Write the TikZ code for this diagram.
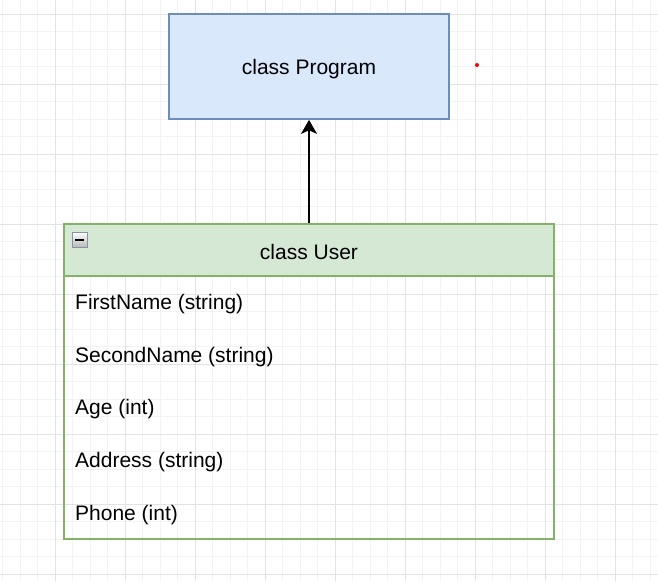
\documentclass[tikz,border=0pt]{standalone}
\usepackage{fontspec}
\setmainfont{Liberation Sans}
\usetikzlibrary{arrows.meta}
\definecolor{progfill}{HTML}{DAE8FC}
\definecolor{progline}{HTML}{6C8EBF}
\definecolor{userfill}{HTML}{D5E8D4}
\definecolor{userline}{HTML}{82B366}
\definecolor{gridminor}{HTML}{F3F3F3}
\definecolor{gridmajor}{HTML}{E3E3E3}
\definecolor{iconline}{HTML}{8894A4}
\tikzset{
  minorline/.style={draw=gridminor, line width=1pt},
  majorline/.style={draw=gridmajor, line width=1pt},
  classbox/.style={rectangle, line width=1.75pt, inner sep=0pt, font=\fontsize{21pt}{25pt}\selectfont},
  rowtext/.style={anchor=west, inner sep=0pt, font=\fontsize{21pt}{25pt}\selectfont},
  conn/.style={line width=1.75pt, -{Stealth[length=14pt, width=16pt, inset=3.5pt]}}
}
\begin{document}
\begin{tikzpicture}[x=1pt,y=-1pt]
\useasboundingbox (0,0) rectangle (658,581);
\fill[white] (0,0) rectangle (658,581);
% grid
\foreach \i in {0,...,37} {
  \draw[minorline] (2.8+17.5*\i,0) -- (2.8+17.5*\i,581);
}
\foreach \i in {0,...,33} {
  \draw[minorline] (0,14+17.5*\i) -- (658,14+17.5*\i);
}
\foreach \i in {0,...,8} {
  \draw[majorline] (55.3+70*\i,0) -- (55.3+70*\i,581);
  \draw[majorline] (0,14+70*\i) -- (658,14+70*\i);
}
% class Program
\node[classbox, draw=progline, fill=progfill, minimum width=280pt, minimum height=105pt] (prog) at (309,66.5) {};
\node[classbox] (progtext) at (309,69) {class Program};
% class User body
\draw[userline, line width=1.75pt] (64,224) rectangle (554,539);
% class User header
\node[classbox, draw=userline, fill=userfill, minimum width=490pt, minimum height=52pt] (user) at (309,250) {};
\node[classbox] (usertext) at (309,251.5) {class User};
% collapse icon
\shade[top color=white, bottom color=gray!55] (72,232) rectangle (87,247);
\draw[iconline, line width=1pt] (72,232) rectangle (87,247);
\fill[black] (75,238.8) rectangle (84,241.2);
% rows
\node[rowtext] (r1) at (75,304.5) {FirstName (string)};
\node[rowtext] (r2) at (75,357.5) {SecondName (string)};
\node[rowtext] (r3) at (75,409.5) {Age (int)};
\node[rowtext] (r4) at (75,462.5) {Address (string)};
\node[rowtext] (r5) at (75,515.5) {Phone (int)};
% connector
\draw[conn] (user.north) -- (prog.south);
% red dot
\fill[red] (477,65) circle (2pt);
\end{tikzpicture}
\end{document}
